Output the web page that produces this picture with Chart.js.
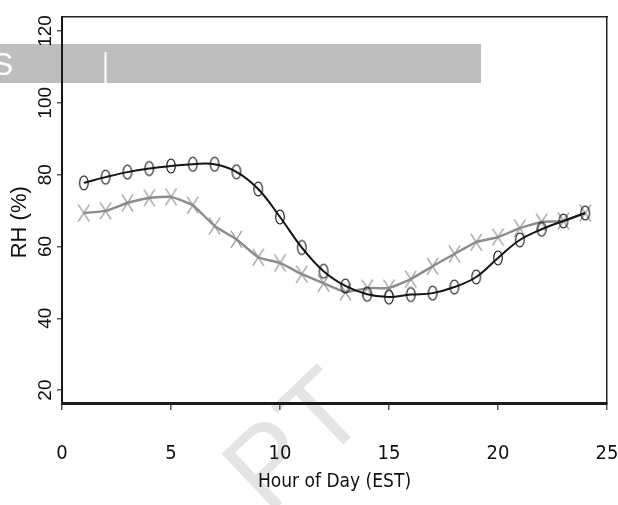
<!DOCTYPE html>
<html>
<head>
<meta charset="utf-8">
<script src="https://cdn.jsdelivr.net/npm/chart.js@4.4.1/dist/chart.umd.min.js"></script>
<style>
  html, body { margin: 0; padding: 0; background: #fff; }
  canvas { display: block; }
</style>
</head>
<body>
<canvas id="rhChart" width="618" height="505"></canvas>
<script>
// Hora do dia (EST)
const hours = [1, 2, 3, 4, 5, 6, 7, 8, 9, 10, 11, 12, 13, 14, 15, 16, 17, 18, 19, 20, 21, 22, 23, 24];

// Umidade relativa (%) - série preta com círculos
const rhCircle = [77.7, 79.3, 80.7, 81.7, 82.4, 82.9, 82.9, 80.8, 76.0, 68.2, 59.7, 53.1,
                  49.0, 46.7, 45.9, 46.6, 47.0, 48.7, 51.5, 56.8, 61.8, 64.8, 67.1, 69.3];

// Umidade relativa (%) - série cinza com cruzes
const rhCross = [69.3, 69.9, 72.1, 73.5, 73.8, 71.5, 65.7, 62.0, 57.0, 55.4, 52.3, 49.8,
                 47.3, 48.4, 48.4, 50.9, 54.5, 57.9, 61.2, 62.6, 65.1, 66.8, 67.1, 69.3];

const yTicks = [20, 40, 60, 80, 100, 120];

const FONT = "'Liberation Sans', Arial, sans-serif";
const NARROW = "'Liberation Sans Narrow', 'Arial Narrow', 'DejaVu Sans Condensed', sans-serif";

// Marcador elíptico vazado
function makeEllipse() {
    const c = document.createElement('canvas');
    c.width = 12;
    c.height = 18;
    const ctx = c.getContext('2d');
    ctx.strokeStyle = '#111';
    ctx.lineWidth = 1.1;
    ctx.beginPath();
    ctx.ellipse(6, 9, 4.3, 7, 0, 0, Math.PI * 2);
    ctx.stroke();
    return c;
}

// Marcador em X alongado
function makeCross() {
    const c = document.createElement('canvas');
    c.width = 13;
    c.height = 19;
    const ctx = c.getContext('2d');
    ctx.strokeStyle = '#8a8a8a';
    ctx.lineWidth = 1.2;
    ctx.beginPath();
    ctx.moveTo(1, 1); ctx.lineTo(12, 18);
    ctx.moveTo(12, 1); ctx.lineTo(1, 18);
    ctx.stroke();
    return c;
}

// Faixa cinza e marca d'água ao fundo
const backdrop = {
    id: 'backdrop',
    beforeDraw(chart) {
        const ctx = chart.ctx;
        ctx.save();
        ctx.fillStyle = '#bebebe';
        ctx.fillRect(0, 44, 481, 39);
        ctx.fillStyle = '#fff';
        ctx.font = '32px ' + FONT;
        ctx.textBaseline = 'alphabetic';
        ctx.fillText('S', -8, 75);
        ctx.fillRect(104.5, 52, 2, 31);

        ctx.translate(268, 516);
        ctx.rotate(-0.76);
        ctx.fillStyle = '#e4e4e4';
        ctx.font = '112px ' + FONT;
        ctx.fillText('PT', 0, 0);
        ctx.restore();
    }
};

const ctx = document.getElementById('rhChart').getContext('2d');
window.rhChart = new Chart(ctx, {
    type: 'line',
    data: {
        datasets: [{
            label: 'RH círculos',
            data: hours.map((h, i) => ({ x: h, y: rhCircle[i] })),
            borderColor: '#151515',
            borderWidth: 2,
            tension: 0.4,
            pointStyle: makeEllipse(),
            pointRadius: 6,
            fill: false
        }, {
            label: 'RH cruzes',
            data: hours.map((h, i) => ({ x: h, y: rhCross[i] })),
            borderColor: '#8c8c8c',
            borderWidth: 2.4,
            tension: 0.15,
            pointStyle: makeCross(),
            pointRadius: 6,
            fill: false
        }]
    },
    options: {
        responsive: false,
        animation: false,
        layout: {
            padding: { left: 0, top: 17, right: 11, bottom: 0 }
        },
        plugins: {
            legend: { display: false },
            tooltip: { enabled: false }
        },
        scales: {
            x: {
                type: 'linear',
                position: 'bottom',
                min: 0,
                max: 25,
                afterFit: scale => { scale.height = 102; },
                border: { display: true, color: '#1a1a1a', width: 3 },
                grid: {
                    display: true,
                    drawOnChartArea: false,
                    drawTicks: true,
                    tickLength: 7,
                    color: '#555',
                    lineWidth: 1.5
                },
                ticks: {
                    stepSize: 5,
                    padding: -1,
                    color: '#111',
                    font: { family: NARROW, size: 20, lineHeight: 4.5 }
                },
                title: {
                    display: true,
                    text: 'Hour of Day (EST)',
                    color: '#111',
                    padding: { top: 0, bottom: 12 },
                    font: { family: NARROW, size: 19 }
                }
            },
            x2: {
                type: 'linear',
                position: 'top',
                min: 0,
                max: 25,
                afterFit: scale => { scale.height = 0; },
                border: { display: true, color: '#222', width: 1.5 },
                grid: { display: false, drawTicks: false },
                ticks: { display: false }
            },
            y: {
                type: 'linear',
                position: 'left',
                min: 16.4,
                max: 123.9,
                afterBuildTicks: scale => {
                    scale.ticks = yTicks.map(v => ({ value: v }));
                },
                afterFit: scale => { scale.width = 62; },
                border: { display: true, color: '#1a1a1a', width: 2 },
                grid: {
                    display: true,
                    drawOnChartArea: false,
                    drawTicks: true,
                    tickLength: 5,
                    color: '#555',
                    lineWidth: 1.5
                },
                ticks: {
                    minRotation: 90,
                    maxRotation: 90,
                    crossAlign: 'center',
                    padding: -5,
                    color: '#111',
                    font: { family: FONT, size: 19 }
                },
                title: {
                    display: true,
                    text: 'RH (%)    ',
                    color: '#111',
                    padding: { top: 7, bottom: 0 },
                    font: { family: FONT, size: 22 }
                }
            },
            y2: {
                type: 'linear',
                position: 'right',
                min: 16.4,
                max: 123.9,
                afterFit: scale => { scale.width = 0; },
                border: { display: true, color: '#222', width: 1.5 },
                grid: { display: false, drawTicks: false },
                ticks: { display: false }
            }
        }
    },
    plugins: [backdrop]
});
</script>
</body>
</html>
